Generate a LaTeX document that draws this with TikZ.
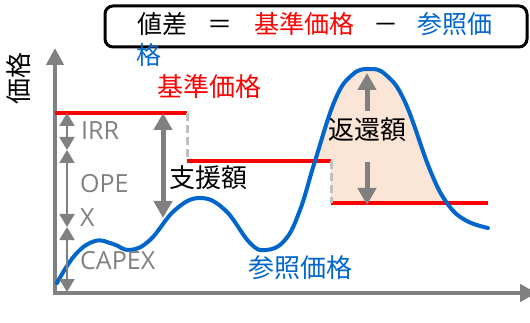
\documentclass[tikz,border=0pt]{standalone}
\usepackage{fontspec}
\newfontfamily\cjk{Noto Sans CJK JP}
\newfontfamily\lat{Open Sans}
\usetikzlibrary{arrows.meta}
\definecolor{axisgray}{HTML}{808080}
\definecolor{dashgray}{HTML}{BFBFBF}
\definecolor{refblue}{HTML}{0066CC}
\definecolor{peach}{HTML}{FBE5D6}
\begin{document}
\begin{tikzpicture}[x=1pt,y=-1pt,
  cjklabel/.style={font=\cjk\fontsize{26}{26}\selectfont, inner sep=0pt, text height=0.88em, text depth=0.12em},
  titletext/.style={font=\cjk\fontsize{25}{25}\selectfont, inner sep=0pt, text height=0.88em, text depth=0.12em},
  latlabel/.style={font=\lat\fontsize{25}{25}\selectfont, text=axisgray, inner sep=0pt, text height=0.714em, text depth=0pt, anchor=west},
  axisline/.style={draw=axisgray, line width=4.5pt, {Triangle[length=17pt,width=17pt]}-{Triangle[length=17pt,width=17pt]}},
  refline/.style={red, line width=4pt},
  guide/.style={dashgray, line width=3pt, dash pattern=on 8pt off 4pt},
  bigarrow/.style={axisgray, line width=5pt, {Triangle[length=17pt,width=18pt]}-{Triangle[length=17pt,width=18pt]}},
  onearrow/.style={axisgray, line width=5pt, -{Triangle[length=17pt,width=18pt]}},
  smallarrow/.style={axisgray, line width=2pt, {Triangle[length=13pt,width=15pt]}-{Triangle[length=13pt,width=15pt]}},
  pricecurve/.style={refblue, line width=4pt, line cap=round},
  titlebox/.style={draw=black, line width=3pt, rounded corners=8pt, fill=white}
]
\useasboundingbox (0,0) rectangle (530,323);

% named points
\coordinate (ytip) at (55,48);
\coordinate (origin) at (55,293);
\coordinate (xtip) at (537,293);
\coordinate (r1a) at (55,113);  \coordinate (r1b) at (187,113);
\coordinate (r2a) at (187,161); \coordinate (r2b) at (331,161);
\coordinate (r3a) at (331,203); \coordinate (r3b) at (488,203);
\coordinate (s1) at (67,113); \coordinate (s2) at (67,150);
\coordinate (s3) at (67,227); \coordinate (s4) at (67,292);
\coordinate (sa) at (163,113); \coordinate (sb) at (163,218);
\coordinate (ua) at (367,111); \coordinate (ub) at (367,73);
\coordinate (da) at (367,162); \coordinate (db) at (367,205);

% shaded refund area (between curve and the stepped reference lines)
\begin{scope}
  \clip (300,0) -- (500,0) -- (500,203) -- (331,203) -- (331,161) -- (300,161) -- cycle;
  \fill[peach] plot[smooth, tension=0.7] coordinates {(285,240) (300,210) (315,161) (335,100) (352,75) (369,69) (386,75) (405,102) (430,170) (447,203) (465,220) (488,228)} -- (488,330) -- (285,330) -- cycle;
\end{scope}

% axes
\draw[axisline] (ytip) -- (origin) -- (xtip);

% reference price lines and dashed guides
\draw[refline] (r1a) -- (r1b);
\draw[refline] (r2a) -- (r2b);
\draw[refline] (r3a) -- (r3b);
\draw[guide] (r1b) -- (r2a);
\draw[guide] (r2b) -- (r3a);

% price curve
\draw[pricecurve] plot[smooth, tension=0.7] coordinates {(57,283) (75,255) (95,241) (113,244) (130,250) (150,240) (175,210) (200,198) (225,210) (250,243) (266,250) (285,240) (300,210) (315,161) (335,100) (352,75) (369,69) (386,75) (405,102) (430,170) (447,203) (465,220) (488,228)};

% arrows
\draw[smallarrow] (s1) -- (s2);
\draw[smallarrow] (s2) -- (s3);
\draw[smallarrow] (s3) -- (s4);
\draw[bigarrow] (sa) -- (sb);
\draw[onearrow] (ua) -- (ub);
\draw[onearrow] (da) -- (db);

% labels
\node[cjklabel, rotate=90] (ylabel) at (25,79) {価格};
\node[cjklabel, text=red] (kijun) at (209,93) {基準価格};
\node[cjklabel] (shien) at (208,184) {支援額};
\node[cjklabel] (henkan) at (367,136) {返還額};
\node[cjklabel, text=refblue] (sansho) at (300,274) {参照価格};
\node[latlabel] (irr) at (81,136) {IRR};
\node[latlabel] (ope) at (80,189) {OPE};
\node[latlabel] (x) at (80,223) {X};
\node[latlabel] (capex) at (80,266) {CAPEX};

% title
\draw[titlebox] (105,6) rectangle (527,47);
\node[titletext] (t1) at (162,30) {値差};
\node[titletext] (t2) at (220,30) {＝};
\node[titletext, text=red] (t3) at (304,30) {基準価格};
\node[titletext] (t4) at (386,30) {－};
\node[titletext, text=refblue] (t5) at (455,30) {参照価};
\node[titletext, text=refblue] (t6) at (149,61) {格};
\end{tikzpicture}
\end{document}
